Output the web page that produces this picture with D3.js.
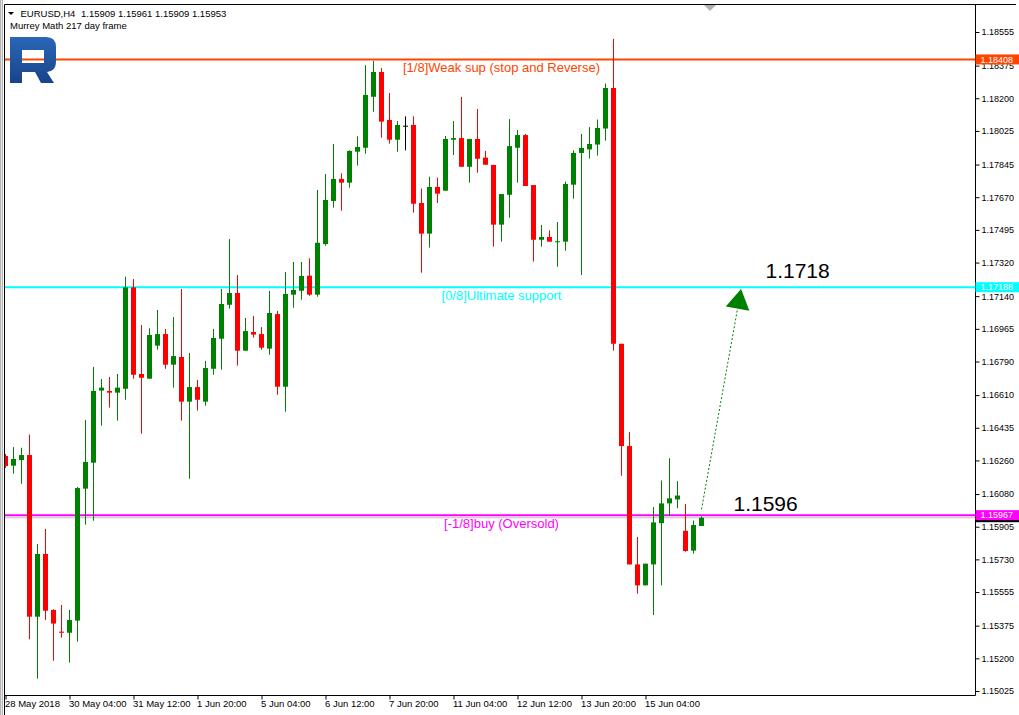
<!DOCTYPE html>
<html>
<head>
<meta charset="utf-8">
<script src="https://cdn.jsdelivr.net/npm/d3@7"></script>
<style>
  body { margin: 0; background: #fff; }
  svg { display: block; font-family: 'Liberation Sans', Arial, sans-serif; }
</style>
</head>
<body>
<svg id="container"></svg>
<script>
// H4 bars, oldest first
const opens = [1.16284, 1.16232, 1.16262, 1.16289, 1.15423, 1.15759, 1.15459, 1.15343, 1.15337, 1.15402,
  1.16109, 1.16248, 1.16634, 1.16632, 1.16623, 1.16644, 1.17187, 1.16723, 1.16698, 1.16875,
  1.16937, 1.16773, 1.16814, 1.16575, 1.16653, 1.16575, 1.16751, 1.16912, 1.17094, 1.17157,
  1.16848, 1.16948, 1.16937, 1.16859, 1.17044, 1.16655, 1.17148, 1.17169, 1.17250, 1.17148,
  1.17419, 1.17650, 1.17768, 1.17748, 1.17914, 1.17935, 1.18208, 1.18341, 1.18084, 1.17978,
  1.18053, 1.18057, 1.17639, 1.17475, 1.17725, 1.17705, 1.17978, 1.17987, 1.17833, 1.17982,
  1.17882, 1.17843, 1.17523, 1.17683, 1.17935, 1.18003, 1.17735, 1.17442, 1.17457, 1.17432,
  1.17432, 1.17737, 1.17907, 1.17926, 1.17952, 1.18038, 1.18255, 1.16885, 1.16337, 1.15703,
  1.15591, 1.15703, 1.15924, 1.16030, 1.16051, 1.15883, 1.15777, 1.15909]
const highs = [1.16295, 1.16332, 1.16328, 1.16398, 1.15812, 1.15893, 1.15463, 1.15486, 1.15459, 1.16118,
  1.16477, 1.16761, 1.16696, 1.16707, 1.16723, 1.17244, 1.17232, 1.16986, 1.16968, 1.17066,
  1.16964, 1.17028, 1.17178, 1.16836, 1.16691, 1.16793, 1.16964, 1.17178, 1.17446, 1.17253,
  1.17023, 1.17034, 1.16975, 1.17168, 1.17061, 1.17269, 1.17323, 1.17323, 1.17343, 1.17709,
  1.17794, 1.17955, 1.17798, 1.17921, 1.17996, 1.18377, 1.18400, 1.18362, 1.18228, 1.18078,
  1.18103, 1.18103, 1.17716, 1.17780, 1.17775, 1.17998, 1.18078, 1.18207, 1.17982, 1.18143,
  1.17918, 1.17843, 1.17687, 1.18089, 1.18030, 1.18009, 1.17735, 1.17521, 1.17493, 1.17537,
  1.17753, 1.17921, 1.18009, 1.18046, 1.18086, 1.18279, 1.18518, 1.16885, 1.16413, 1.15850,
  1.15707, 1.16010, 1.16153, 1.16272, 1.16149, 1.16027, 1.15938, 1.15961]
const lows = [1.16220, 1.16189, 1.16135, 1.15302, 1.15091, 1.15405, 1.15187, 1.15311, 1.15177, 1.15289,
  1.15916, 1.15937, 1.16446, 1.16543, 1.16473, 1.16585, 1.16698, 1.16403, 1.16698, 1.16853,
  1.16751, 1.16650, 1.16473, 1.16162, 1.16527, 1.16553, 1.16719, 1.16746, 1.17073, 1.16768,
  1.16848, 1.16918, 1.16853, 1.16826, 1.16612, 1.16521, 1.17078, 1.17121, 1.17142, 1.17137,
  1.17410, 1.17614, 1.17598, 1.17721, 1.17839, 1.17903, 1.18128, 1.17989, 1.17957, 1.17914,
  1.17921, 1.17587, 1.17266, 1.17400, 1.17639, 1.17705, 1.17896, 1.17833, 1.17748, 1.17801,
  1.17844, 1.17405, 1.17432, 1.17560, 1.17748, 1.17730, 1.17325, 1.17405, 1.17432, 1.17298,
  1.17383, 1.17662, 1.17253, 1.17877, 1.17893, 1.17973, 1.16848, 1.16178, 1.15703, 1.15546,
  1.15591, 1.15432, 1.15591, 1.15963, 1.16004, 1.15771, 1.15761, 1.15909]
const closes = [1.16230, 1.16268, 1.16289, 1.15423, 1.15759, 1.15455, 1.15386, 1.15337, 1.15405, 1.16112,
  1.16252, 1.16632, 1.16650, 1.16623, 1.16650, 1.17187, 1.16719, 1.16703, 1.16932, 1.16937,
  1.16773, 1.16819, 1.16575, 1.16653, 1.16585, 1.16755, 1.16916, 1.17098, 1.17157, 1.16848,
  1.16953, 1.16934, 1.16864, 1.17050, 1.16655, 1.17152, 1.17173, 1.17248, 1.17148, 1.17426,
  1.17655, 1.17768, 1.17748, 1.17918, 1.17939, 1.18218, 1.18341, 1.18075, 1.17978, 1.18057,
  1.18053, 1.17635, 1.17475, 1.17725, 1.17689, 1.17982, 1.17987, 1.17833, 1.17982, 1.17876,
  1.17844, 1.17523, 1.17687, 1.17944, 1.18003, 1.17730, 1.17442, 1.17457, 1.17432, 1.17434,
  1.17741, 1.17907, 1.17934, 1.17955, 1.18041, 1.18255, 1.16885, 1.16337, 1.15703, 1.15591,
  1.15707, 1.15928, 1.16030, 1.16057, 1.16072, 1.15775, 1.15914, 1.15953]

// axis labels
const yTicks = [1.18555, 1.18375, 1.18200, 1.18025, 1.17845, 1.17670, 1.17495, 1.17320, 1.17140, 1.16965,
  1.16790, 1.16610, 1.16435, 1.16260, 1.16080, 1.15905, 1.15730, 1.15555, 1.15375, 1.15200, 1.15025]
const xTickBars = [0, 8, 16, 24, 32, 40, 48, 56, 64, 72, 80]
const xTickLabels = ['28 May 2018', '30 May 04:00', '31 May 12:00', '1 Jun 20:00', '5 Jun 04:00', '6 Jun 12:00',
  '7 Jun 20:00', '11 Jun 04:00', '12 Jun 12:00', '13 Jun 20:00', '15 Jun 04:00']

// Murrey Math levels
const levelPrices = [1.18408, 1.17188, 1.15967]
const levelNames = ['[1/8]Weak sup (stop and Reverse)', '[0/8]Ultimate support', '[-1/8]buy (Oversold)']
const levelColors = ['#ff4500', '#00ffff', '#ff00ff']
const bidPrice = 1.15953

// forecast annotations
const noteTexts = ['1.1718', '1.1596']
const noteBars = [95, 91]
const notePrices = [1.17237, 1.15989]
const arrowFrom = { bar: 87, price: 1.15998 }
const arrowTo = { bar: 91.95, price: 1.17179 }

const svgWidth = 1019
const svgHeight = 715
const plot = { left: 5, right: 975, top: 4, bottom: 695 }

const svg = d3.select('#container').attr('width', svgWidth).attr('height', svgHeight)

const x = d3.scaleLinear().domain([0, 120]).range([5.5, 965.5])
const y = d3.scaleLinear().domain([1.15025, 1.18555]).range([691, 32])

// window frame
svg.append('rect').attr('x', 0).attr('y', 0).attr('width', 3).attr('height', svgHeight).attr('fill', '#b4b4b4')
svg.append('rect').attr('x', 1).attr('y', 0).attr('width', 1).attr('height', svgHeight).attr('fill', '#e6e6e6')

svg.append('defs')
  .append('clipPath')
  .attr('id', 'clip')
  .append('rect')
  .attr('x', plot.left)
  .attr('y', plot.top)
  .attr('width', plot.right - plot.left)
  .attr('height', plot.bottom - plot.top)

const body = svg.append('g').attr('clip-path', 'url(#clip)')

// bid line
body.append('line')
  .attr('x1', plot.left).attr('x2', plot.right)
  .attr('y1', y(bidPrice)).attr('y2', y(bidPrice))
  .attr('stroke', '#c0c0c0')

// level lines
levelPrices.forEach((p, i) => {
  body.append('line')
    .attr('x1', plot.left).attr('x2', plot.right)
    .attr('y1', y(p)).attr('y2', y(p))
    .attr('stroke', levelColors[i])
    .attr('stroke-width', 2)
})

// logo
const grad = svg.select('defs').append('linearGradient')
  .attr('id', 'logoGrad').attr('x1', 0).attr('x2', 0).attr('y1', 0).attr('y2', 1)
grad.append('stop').attr('offset', '0%').attr('stop-color', '#2b66b8')
grad.append('stop').attr('offset', '100%').attr('stop-color', '#174488')
svg.append('path')
  .attr('d', 'M10,37 H46 Q56,37 56,47 V62 Q56,71 47,72 L54,83 H41 L35,72 H22 V83 H10 Z M22,50 V63 H44 V50 Z')
  .attr('fill', 'url(#logoGrad)')
  .attr('fill-rule', 'evenodd')

const bars = d3.range(opens.length).map(i => ({
  i, o: opens[i], h: highs[i], l: lows[i], c: closes[i]
}))
const colorOf = d => (d.o === d.c ? '#000' : d.c > d.o ? '#008000' : '#ff0000')

// wicks
body.selectAll('.stem')
  .data(bars)
  .join('line')
  .attr('class', 'stem')
  .attr('x1', d => x(d.i))
  .attr('x2', d => x(d.i))
  .attr('y1', d => y(d.h))
  .attr('y2', d => y(d.l))
  .attr('stroke', colorOf)

// candle bodies
body.selectAll('.candle')
  .data(bars)
  .join('rect')
  .attr('class', 'candle')
  .attr('x', d => x(d.i) - 2.5)
  .attr('width', 5)
  .attr('y', d => y(Math.max(d.o, d.c)))
  .attr('height', d => Math.max(1, y(Math.min(d.o, d.c)) - y(Math.max(d.o, d.c))))
  .attr('fill', colorOf)

// level captions
levelPrices.forEach((p, i) => {
  body.append('text')
    .attr('x', x(62))
    .attr('y', y(p) + 13)
    .attr('text-anchor', 'middle')
    .attr('font-size', 13)
    .attr('fill', levelColors[i])
    .text(levelNames[i])
})

// forecast arrow
const ax0 = x(arrowFrom.bar), ay0 = y(arrowFrom.price)
const ax1 = x(arrowTo.bar), ay1 = y(arrowTo.price)
const len = Math.hypot(ax1 - ax0, ay1 - ay0)
const ux = (ax1 - ax0) / len, uy = (ay1 - ay0) / len
const bx = ax1 - ux * 20, by = ay1 - uy * 20
body.append('line')
  .attr('x1', ax0).attr('y1', ay0)
  .attr('x2', bx).attr('y2', by)
  .attr('stroke', '#008000')
  .attr('stroke-dasharray', '2,2')
body.append('path')
  .attr('d', `M${ax1},${ay1} L${bx - uy * 12},${by + ux * 12} L${bx + uy * 12},${by - ux * 12} Z`)
  .attr('fill', '#008000')

noteTexts.forEach((t, i) => {
  body.append('text')
    .attr('x', x(noteBars[i]))
    .attr('y', y(notePrices[i]))
    .attr('font-size', 21)
    .attr('fill', '#000')
    .text(t)
})

// chart border
svg.append('path')
  .attr('d', `M4.5,${svgHeight} V${plot.top + 0.5} H${svgWidth - 3}`)
  .attr('fill', 'none').attr('stroke', '#000')
svg.append('path')
  .attr('d', `M${plot.left},${plot.bottom + 0.5} H${plot.right + 0.5} V${plot.top}`)
  .attr('fill', 'none').attr('stroke', '#000')

// shift marker
svg.append('path').attr('d', 'M704,5 H716 L710,11 Z').attr('fill', '#b0b0b0')

// y axis
const gY = svg.append('g')
  .attr('transform', `translate(${plot.right + 0.5},0)`)
  .call(d3.axisRight(y).tickValues(yTicks).tickSize(4).tickPadding(2).tickFormat(d3.format('.5f')))
gY.select('.domain').remove()
gY.selectAll('.tick line').attr('stroke', '#000')
gY.selectAll('.tick text').attr('font-size', 9).attr('font-family', null).attr('fill', '#000')

// x axis
const gX = svg.append('g')
  .attr('transform', `translate(0,${plot.bottom + 0.5})`)
  .call(d3.axisBottom(x).tickValues(xTickBars).tickSize(4).tickPadding(1).tickFormat((d, i) => xTickLabels[i]))
gX.select('.domain').remove()
gX.selectAll('.tick line').attr('stroke', '#000')
gX.selectAll('.tick text')
  .attr('font-size', 9.5)
  .attr('font-family', null)
  .attr('fill', '#000')
  .attr('text-anchor', 'start')
  .attr('x', -1)

// price tags on the right scale
const tags = svg.append('g')
const tag = (p, fill) => {
  tags.append('rect')
    .attr('x', plot.right + 0.5).attr('y', y(p) - 5)
    .attr('width', svgWidth - plot.right).attr('height', 10)
    .attr('fill', fill)
  tags.append('text')
    .attr('x', plot.right + 5.5).attr('y', y(p))
    .attr('dy', '0.35em')
    .attr('font-size', 9)
    .attr('fill', '#fff')
    .text(d3.format('.5f')(p))
}
tag(bidPrice + 0.00003, '#000')
levelPrices.forEach((p, i) => tag(p, levelColors[i]))

// header
const head = svg.append('g').attr('font-size', 9.5).attr('fill', '#000')
head.append('path').attr('d', 'M8,12 H14 L11,15 Z').attr('fill', '#000')
head.append('text').attr('x', 20.5).attr('y', 16.5).text('EURUSD,H4')
head.append('text').attr('x', 81).attr('y', 16.5).text('1.15909 1.15961 1.15909 1.15953')
head.append('text').attr('x', 10).attr('y', 29).text('Murrey Math 217 day frame')
</script>
</body>
</html>
